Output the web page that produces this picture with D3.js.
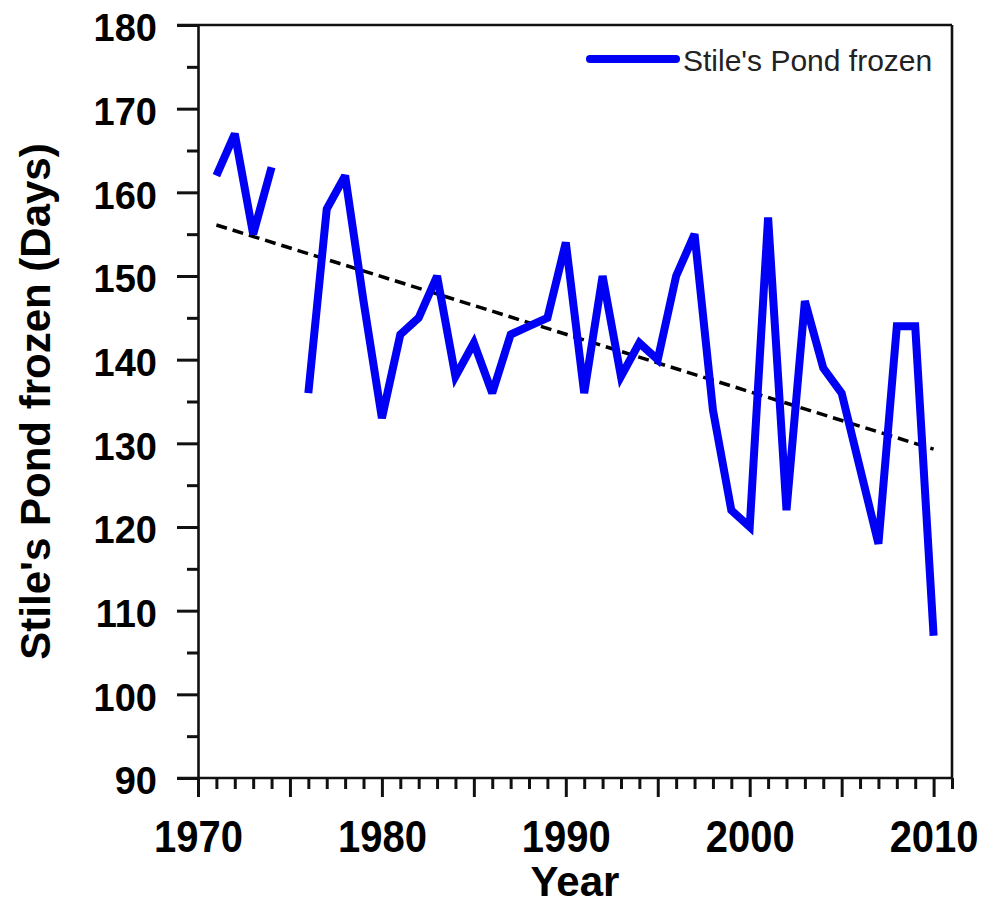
<!DOCTYPE html>
<html>
<head>
<meta charset="utf-8">
<script src="https://cdn.jsdelivr.net/npm/d3@7"></script>
<style>
  html, body { margin: 0; padding: 0; background: #fff; }
  svg { display: block; }
  text { font-family: "Liberation Sans", Arial, Helvetica, sans-serif; }
</style>
</head>
<body>
<svg id="chart" width="982" height="906"></svg>
<script>
// ---- Data ----
const years = [1971,1972,1973,1974,1975,1976,1977,1978,1979,1980,
               1981,1982,1983,1984,1985,1986,1987,1988,1989,1990,
               1991,1992,1993,1994,1995,1996,1997,1998,1999,2000,
               2001,2002,2003,2004,2005,2006,2007,2008,2009,2010];
const frozenDays = [162,167,155,163,null,136,158,162,147,133,
                    143,145,150,138,142,136,143,144,145,154,
                    136,150,138,142,140,150,155,134,122,120,
                    157,122,147,139,136,127,118,144,144,107];
const trendYears = [1971, 2010];
const trendValues = [156.1, 129.3];
const xTickLabels = [1970, 1980, 1990, 2000, 2010];
const yTickLabels = [90, 100, 110, 120, 130, 140, 150, 160, 170, 180];
const seriesName = "Stile's Pond frozen";
const xTitle = "Year";
const yTitle = "Stile's Pond frozen (Days)";

(function () {
// ---- Layout ----
const pL = 198, pR = 952, pT = 25, pB = 778;
const svg = d3.select("#chart");

const x = d3.scaleLinear().domain([1970, 2011]).range([pL, pR]);
const y = d3.scaleLinear().domain([90, 180]).range([pB, pT]);

const axisColor = "#111";
const axisW = 2.6;

// Frame: top and right borders
svg.append("line").attr("x1", pL - 21).attr("x2", pR).attr("y1", pT).attr("y2", pT)
  .attr("stroke", axisColor).attr("stroke-width", axisW);
svg.append("line").attr("x1", pR).attr("x2", pR).attr("y1", pT).attr("y2", pB)
  .attr("stroke", axisColor).attr("stroke-width", axisW);

// X axis: minor tick every year
const allYears = d3.range(1970, 2012);
const xMinorG = svg.append("g").attr("transform", `translate(0,${pB})`)
  .call(d3.axisBottom(x).tickValues(allYears.filter(v => v % 5 !== 0)).tickSize(11).tickFormat(() => ""));
xMinorG.select(".domain").remove();
xMinorG.selectAll(".tick line").attr("stroke", axisColor).attr("stroke-width", 3);

// X axis: long ticks every 5 years, labels every 10
const xAxisG = svg.append("g").attr("transform", `translate(0,${pB})`)
  .call(d3.axisBottom(x).tickValues(allYears.filter(v => v % 5 === 0)).tickSize(19)
    .tickFormat(d => xTickLabels.includes(d) ? String(d) : ""));
xAxisG.select(".domain").remove();
xAxisG.selectAll(".tick line").attr("stroke", axisColor).attr("stroke-width", 3);
xAxisG.selectAll("text")
  .attr("fill", "#000")
  .attr("font-size", 40)
  .attr("font-weight", "bold")
  .attr("y", 74 / 1.1)
  .attr("dy", 0)
  .attr("transform", "scale(1,1.1)");

// Bottom axis line (extends to the 90 tick)
svg.append("line").attr("x1", pL - 21).attr("x2", pR).attr("y1", pB).attr("y2", pB)
  .attr("stroke", axisColor).attr("stroke-width", axisW);

// Y axis: major ticks every 10 with labels, minor every 5
const yAllTicks = d3.range(90, 181, 5);
const yAxisG = svg.append("g").attr("transform", `translate(${pL},0)`)
  .call(d3.axisLeft(y).tickValues(yAllTicks).tickSize(21).tickPadding(20)
    .tickFormat(d => yTickLabels.includes(d) ? String(d) : ""));
yAxisG.select(".domain").attr("stroke", axisColor).attr("stroke-width", axisW);
yAxisG.selectAll(".tick line")
  .attr("stroke", axisColor).attr("stroke-width", 3)
  .attr("x2", d => (d % 10 === 0 ? -21 : -11));
yAxisG.selectAll("text")
  .attr("fill", "#000")
  .attr("font-size", 38)
  .attr("font-weight", "bold")
  .attr("dy", "0.42em");

// Trend line (dashed)
const trendData = trendYears.map((yr, i) => ({ yr, v: trendValues[i] }));
svg.append("path")
  .datum(trendData)
  .attr("fill", "none")
  .attr("stroke", "#000")
  .attr("stroke-width", 3.5)
  .attr("stroke-dasharray", "11,6")
  .attr("d", d3.line().x(d => x(d.yr)).y(d => y(d.v)));

// Data series
const seriesData = years.map((yr, i) => ({ yr, v: frozenDays[i] }));
svg.append("path")
  .datum(seriesData)
  .attr("fill", "none")
  .attr("stroke", "#0000f5")
  .attr("stroke-width", 8)
  .attr("stroke-linejoin", "miter")
  .attr("stroke-miterlimit", 3)
  .attr("d", d3.line().defined(d => d.v != null).x(d => x(d.yr)).y(d => y(d.v)));

// Legend
svg.append("line").attr("x1", 590).attr("x2", 676).attr("y1", 59).attr("y2", 59)
  .attr("stroke", "#0000f5").attr("stroke-width", 8).attr("stroke-linecap", "round");
svg.append("text").attr("x", 683).attr("y", 71)
  .attr("font-size", 30).attr("fill", "#222")
  .text(seriesName);

// Axis titles
svg.append("text")
  .attr("x", (pL + pR) / 2).attr("y", 896)
  .attr("text-anchor", "middle")
  .attr("font-size", 42).attr("font-weight", "bold").attr("fill", "#000")
  .text(xTitle);

svg.append("text")
  .attr("transform", `translate(50,${(pT + pB) / 2}) rotate(-90)`)
  .attr("text-anchor", "middle")
  .attr("font-size", 42).attr("font-weight", "bold").attr("fill", "#000")
  .text(yTitle);
})();
</script>
</body>
</html>
